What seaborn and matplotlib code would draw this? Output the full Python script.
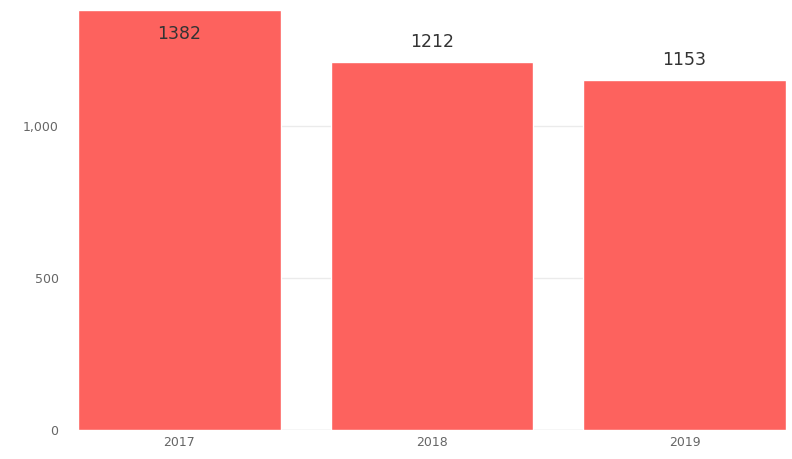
import pandas as pd
import matplotlib.pyplot as plt
import seaborn as sns
from matplotlib.ticker import FuncFormatter

# Values
years = ["2017", "2018", "2019"]
counts = [1382, 1212, 1153]

df = pd.DataFrame({"year": years, "count": counts})

sns.set_theme(style="white")
plt.rcParams["font.family"] = ["DejaVu Sans"]

fig = plt.figure(figsize=(7.92, 4.59), dpi=100)
ax = fig.add_axes([78 / 792, 29 / 459, 708 / 792, 420 / 459])

sns.barplot(data=df, x="year", y="count", color="#FD625E", saturation=1,
            width=0.803, ax=ax, zorder=2)

ax.set_xlim(-0.4015, 2.4015)
ax.set_ylim(0, 1382)
ax.set_yticks([0, 500, 1000])
ax.yaxis.set_major_formatter(FuncFormatter(lambda v, p: f"{int(v):,}"))
ax.grid(axis="y", color="#EBEBEB", linewidth=1, zorder=0)
ax.set_axisbelow(True)
ax.set_xlabel("")
ax.set_ylabel("")
sns.despine(ax=ax, left=True, top=True, right=True, bottom=True)
ax.axhline(0, color="#E6E6E6", linewidth=1, zorder=1)
ax.tick_params(axis="both", length=0, labelsize=9, labelcolor="#666666")
ax.tick_params(axis="y", pad=14)
ax.tick_params(axis="x", pad=4)

# data labels: above the bar, or inside when there is no room at the top
for i, v in enumerate(counts):
    if v >= ax.get_ylim()[1] - 40:
        ax.annotate(str(v), (i, v), xytext=(0, -17), textcoords="offset points",
                    ha="center", va="center", fontsize=12.5, color="#333333")
    else:
        ax.annotate(str(v), (i, v), xytext=(0, 14), textcoords="offset points",
                    ha="center", va="center", fontsize=12.5, color="#333333")

fig.savefig("out.png", dpi=100)
